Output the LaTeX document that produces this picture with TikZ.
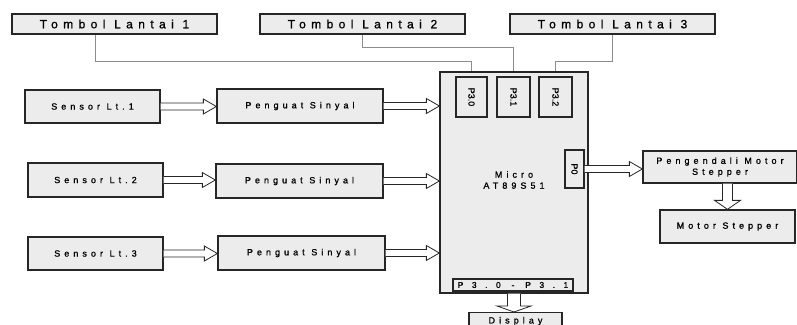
\documentclass[tikz,border=0pt]{standalone}
\usepackage{fontspec}
\setmainfont[FakeBold=1]{Liberation Sans}
\newfontfamily\spacedfont[LetterSpace=45, FakeBold=1]{Liberation Sans}
\newfontfamily\widefont[LetterSpace=100, FakeBold=1]{Liberation Sans}
\usetikzlibrary{calc}

\begin{document}
\begin{tikzpicture}[
    x=1pt, y=-1pt,
    font=\fontsize{9}{11}\selectfont\spacedfont,
    block/.style={rectangle, draw=black!85, fill=gray!15, line width=1.3pt, inner sep=0pt, align=center},
    topblock/.style={block, minimum width=205pt, minimum height=20pt, font=\fontsize{12}{12}\selectfont\spacedfont},
    pinbox/.style={block, font=\fontsize{9}{9}\selectfont},
    wire/.style={draw=gray!90, line width=0.8pt},
    % hollow block arrows: shaft half width, head half width, head length
    harrow/.style n args={3}{draw=black!85, fill=white, line width=0.8pt, line join=miter, to path={
        ($(\tikztostart)+(0,-#1)$) -- ($(\tikztotarget)+(-#3,-#1)$) -- ($(\tikztotarget)+(-#3,-#2)$) -- (\tikztotarget)
        -- ($(\tikztotarget)+(-#3,#2)$) -- ($(\tikztotarget)+(-#3,#1)$) -- ($(\tikztostart)+(0,#1)$)}},
    varrow/.style n args={3}{draw=black!85, fill=white, line width=0.8pt, line join=miter, to path={
        ($(\tikztostart)+(-#1,0)$) -- ($(\tikztotarget)+(-#1,-#3)$) -- ($(\tikztotarget)+(-#2,-#3)$) -- (\tikztotarget)
        -- ($(\tikztotarget)+(#2,-#3)$) -- ($(\tikztotarget)+(#1,-#3)$) -- ($(\tikztostart)+(#1,0)$)}}
]
\clip (0,0) rectangle (797,324);

% Tombol
\node[topblock] (tombol1) at (114.5,24) {Tombol Lantai 1};
\node[topblock] (tombol2) at (362.5,24) {Tombol Lantai 2};
\node[topblock] (tombol3) at (612.5,24) {Tombol Lantai 3};

% Sensor dan penguat
\node[block, minimum width=135pt, minimum height=33pt] (sensor1) at (92.5,106.5) {Sensor Lt.1};
\node[block, minimum width=135pt, minimum height=34pt] (sensor2) at (95.5,180) {Sensor Lt.2};
\node[block, minimum width=135pt, minimum height=33pt] (sensor3) at (95.5,253.5) {Sensor Lt.3};
\node[block, minimum width=166pt, minimum height=34pt] (amp1) at (300,106) {Penguat Sinyal};
\node[block, minimum width=167pt, minimum height=34pt] (amp2) at (299.5,181) {Penguat Sinyal};
\node[block, minimum width=167pt, minimum height=34pt] (amp3) at (301.5,253) {Penguat Sinyal};

% Mikrokontroler
\node[block, minimum width=148pt, minimum height=221pt] (micro) at (514,182.5) {};
\node[align=center] (microtext) at (514,180) {Micro\\AT89S51};
\node[pinbox, minimum width=31pt, minimum height=40pt] (pin30) at (471.5,97) {\rotatebox{-90}{P3.0}};
\node[pinbox, minimum width=33pt, minimum height=40pt] (pin31) at (513.5,97) {\rotatebox{-90}{P3.1}};
\node[pinbox, minimum width=33pt, minimum height=40pt] (pin32) at (555.5,97) {\rotatebox{-90}{P3.2}};
\node[pinbox, minimum width=19pt, minimum height=38pt] (pzero) at (574.5,169) {\rotatebox{-90}{P0}};
\node[block, minimum width=120pt, minimum height=12pt, font=\fontsize{8.5}{8.5}\selectfont\widefont] (pdisp) at (513,285) {P3.0 - P3.1};

% Keluaran
\node[block, minimum width=154pt, minimum height=32pt] (driver) at (720,167) {Pengendali Motor\\Stepper};
\node[block, minimum width=135pt, minimum height=33pt] (motor) at (727.5,226.5) {Motor Stepper};
\node[block, minimum width=93pt, minimum height=17pt, anchor=north] (display) at (515.5,312) {Display};

% Kabel tombol
\draw[wire] ([xshift=-19.5pt]tombol1.south) |- ($(pin30 |- micro.north)+(0,-10)$) -- (pin30 |- micro.north);
\draw[wire] (tombol2.south) |- ($(pin31 |- micro.north)+(0,-24)$) -- (pin31 |- micro.north);
\draw[wire] (tombol3.south) |- ($(pin32 |- micro.north)+(0,-10)$) -- (pin32 |- micro.north);

% Panah
\draw[harrow={3.5}{7.5}{13}] (sensor1.east) to (sensor1.east -| amp1.west);
\draw[harrow={3.5}{7.5}{13}] (sensor2.east) to (sensor2.east -| amp2.west);
\draw[harrow={3.5}{7.5}{13}] (sensor3.east) to (sensor3.east -| amp3.west);
\draw[harrow={3.5}{7.5}{13}] (amp1.east) to (amp1.east -| micro.west);
\draw[harrow={3.5}{7.5}{13}] (amp2.east) to (amp2.east -| micro.west);
\draw[harrow={3.5}{7.5}{13}] (amp3.east) to (amp3.east -| micro.west);
\draw[harrow={3.5}{7.5}{13}] (pzero.east) to (pzero.east -| driver.west);
\draw[varrow={5}{13}{9}] (driver.south -| motor) to (motor.north);
\draw[varrow={6.5}{17}{6}] (micro.south) to (micro.south |- display.north);

\end{tikzpicture}
\end{document}
